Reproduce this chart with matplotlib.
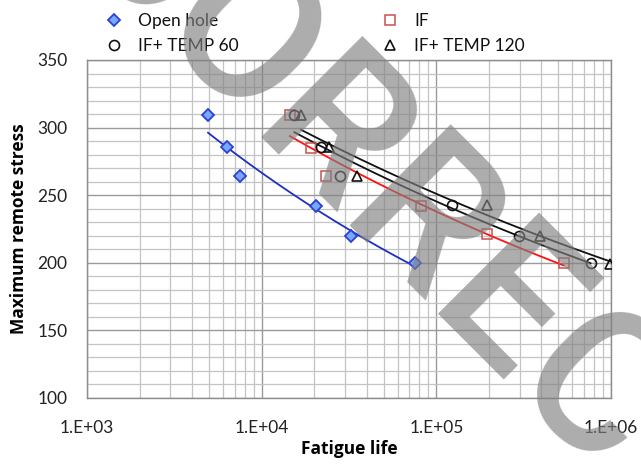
import numpy as np
import matplotlib
matplotlib.use("Agg")
import matplotlib.pyplot as plt
from matplotlib.ticker import FixedLocator, NullFormatter, FuncFormatter, MultipleLocator

# Fatigue test results: cycles to failure at each maximum remote stress level
open_life = [4930, 6330, 7510, 20600, 32400, 75400]
open_stress = [309, 286, 264, 242, 220, 200]

if_life = [14500, 19200, 23200, 81300, 196000, 537000]
if_stress = [309, 285, 264, 242, 221, 200]

t60_life = [15400, 22000, 28200, 123000, 297000, 764000]
t60_stress = [309, 286, 264, 243, 220, 200]

t120_life = [16800, 24300, 35000, 196000, 392000, 986000]
t120_stress = [309, 286, 264, 243, 220, 199]

labels = ["Open hole", "IF", "IF+ TEMP 60", "IF+ TEMP 120"]
x_ticks = [1e3, 1e4, 1e5, 1e6]
y_ticks = [100, 150, 200, 250, 300, 350]

W, H, DPI = 641, 472, 100
font = "Lato"
plt.rcParams["font.family"] = [font, "DejaVu Sans"]

fig = plt.figure(figsize=(W / DPI, H / DPI), dpi=DPI)
L, R, T, B = 87, 611, 60, 398
ax = fig.add_axes([L / W, 1 - B / H, (R - L) / W, (B - T) / H])

ax.set_xscale("log")
ax.set_xlim(1e3, 1e6)
ax.set_ylim(100, 350)
ax.xaxis.set_major_locator(FixedLocator(x_ticks))
minor = [m * 10 ** e for e in range(3, 6) for m in range(2, 10)]
ax.xaxis.set_minor_locator(FixedLocator(minor))
ax.xaxis.set_minor_formatter(NullFormatter())
ax.xaxis.set_major_formatter(FuncFormatter(lambda v, p: "1.E+%02d" % round(np.log10(v))))
ax.yaxis.set_major_locator(FixedLocator(y_ticks))
ax.yaxis.set_minor_locator(MultipleLocator(10))

ax.set_axisbelow(True)
ax.grid(which="major", color="#9a9a9a", lw=1.0)
ax.grid(which="minor", color="#c4c4c4", lw=0.9)
for s in ax.spines.values():
    s.set_color("#8c8c8c")
    s.set_linewidth(1.0)
ax.tick_params(which="both", length=0)
ax.tick_params(axis="y", pad=14, labelsize=12.5, labelcolor="#222222")
ax.tick_params(axis="x", pad=15.5, labelsize=12.5, labelcolor="#222222")

title_font = ["Open Sans", "DejaVu Sans"]
ax.set_xlabel("Fatigue life", fontsize=12.5, fontweight="bold", family=title_font, labelpad=3)
ax.set_ylabel("Maximum remote stress", fontsize=12.5, fontweight="bold", family=title_font, labelpad=7)


def power_fit(x, y):
    b, loga = np.polyfit(np.log(x), np.log(y), 1)
    xs = np.geomspace(min(x), max(x), 200)
    return xs, np.exp(loga) * xs ** b


series = [
    (open_life, open_stress, dict(marker="D", ms=6.2, mfc="#74a9ff", mec="#2f3fd0", mew=1.3), "#1f2fc0"),
    (if_life, if_stress, dict(marker="s", ms=7, mfc="none", mec="#c8504f", mew=1.1), "#ff1010"),
    (t60_life, t60_stress, dict(marker="o", ms=7.2, mfc="none", mec="#111111", mew=1.2), "#111111"),
    (t120_life, t120_stress, dict(marker="^", ms=7.2, mfc="none", mec="#111111", mew=1.2), "#111111"),
]
handles = []
for (xv, yv, mk, lc), lab in zip(series, labels):
    xs, ys = power_fit(xv, yv)
    ax.plot(xs, ys, color=lc, lw=1.3, zorder=3)
    h, = ax.plot(xv, yv, ls="none", zorder=4, label=lab, **mk)
    handles.append(h)

leg_kw = dict(frameon=False, fontsize=12.5, handlelength=1.0, handletextpad=0.9,
              labelspacing=0.5, borderpad=0, borderaxespad=0, loc="upper left",
              bbox_transform=fig.transFigure)
leg1 = fig.legend([handles[0], handles[2]], [labels[0], labels[2]],
                  bbox_to_anchor=(105 / W, 1 - 13 / H), **leg_kw)
leg2 = fig.legend([handles[1], handles[3]], [labels[1], labels[3]],
                  bbox_to_anchor=(381 / W, 1 - 13 / H), **leg_kw)
for lg in (leg1, leg2):
    for t in lg.get_texts():
        t.set_color("#111111")

# Diagonal stamp across the figure
fig.text(57 / W, 1 + 56 / H, "CORRECTED", fontsize=144, family="Roboto",
         fontweight=500, color="#808080", alpha=0.65, rotation=-45,
         rotation_mode="anchor", ha="left", va="baseline", zorder=10)

fig.savefig("out.png", dpi=DPI)
